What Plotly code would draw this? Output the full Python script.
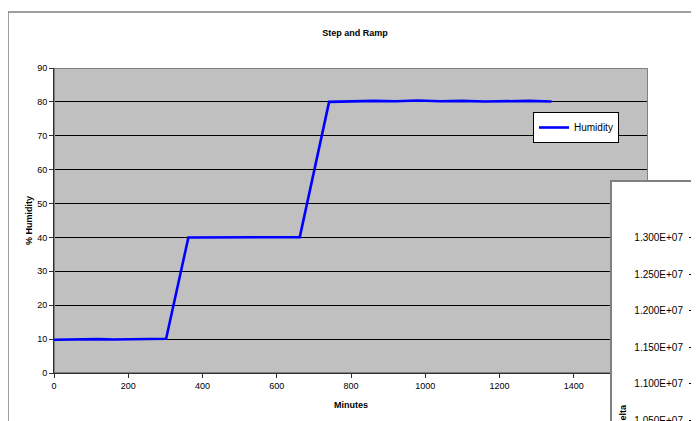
import plotly.graph_objects as go

# ---- data ----
minutes = [0, 40, 80, 120, 160, 200, 240, 280, 302, 362, 420, 500, 580, 640, 662,
           741, 800, 860, 920, 980, 1040, 1100, 1160, 1220, 1280, 1340]
humidity = [9.8, 9.9, 9.8, 10.0, 9.9, 10.0, 9.9, 10.0, 10.1, 40.0, 40.0, 40.0, 40.0, 40.0, 40.1,
            80.0, 80.2, 80.3, 80.2, 80.4, 80.2, 80.3, 80.1, 80.2, 80.3, 80.1]
series_name = "Humidity"

x_range = [0, 1600]
y_range = [0, 90]
x_ticks = [0, 200, 400, 600, 800, 1000, 1200, 1400, 1600]
y_ticks = [0, 10, 20, 30, 40, 50, 60, 70, 80, 90]

# second (overlapping) chart axis
delta_ticks = [10500000, 11000000, 11500000, 12000000, 12500000, 13000000]
delta_labels = ["1.050E+07", "1.100E+07", "1.150E+07", "1.200E+07", "1.250E+07", "1.300E+07"]
delta_range = [10384000, 13000000]

W, H = 699, 421
OFF = 8  # page body margin: figure starts 8px in from the window corner
FONT = "Arial, Liberation Sans, sans-serif"

def px(x):
    return (x - OFF) / W

def py(y):
    return 1 - (y - OFF) / H

fig = go.Figure()
fig.add_trace(go.Scatter(x=minutes, y=humidity, mode="lines", name=series_name,
                         line=dict(color="#0000FF", width=2.6), xaxis="x", yaxis="y"))
# empty traces so the overlapping chart's subplots are created
fig.add_trace(go.Scatter(x=[], y=[], xaxis="x2", yaxis="y2", showlegend=False, hoverinfo="skip"))
fig.add_trace(go.Scatter(x=[], y=[], xaxis="x3", yaxis="y3", showlegend=False, hoverinfo="skip"))

layout = dict(
    width=W, height=H, autosize=False,
    margin=dict(l=0, r=0, t=0, b=0, pad=0, autoexpand=False),
    paper_bgcolor="white", plot_bgcolor="white",
    font=dict(family=FONT, size=9, color="black"),
    title=dict(text="<b>Step and Ramp</b>", x=px(355), y=py(33), xanchor="center", yanchor="middle",
               xref="paper", yref="container", automargin=False,
               font=dict(family=FONT, size=9, color="black")),
    showlegend=True,
    legend=dict(x=px(533), y=py(112), xanchor="left", yanchor="top", bgcolor="white",
                bordercolor="black", borderwidth=1, font=dict(family=FONT, size=10, color="black"),
                itemwidth=30, tracegroupgap=0),
    xaxis=dict(domain=[px(54), px(648)], range=x_range, tickvals=x_ticks, anchor="y", automargin=False,
               showgrid=False, zeroline=False, showline=True, linecolor="#303030", linewidth=1,
               ticks="outside", ticklen=4, tickcolor="#303030", tickfont=dict(size=9),
               title=dict(text="<b>Minutes</b>", font=dict(size=9), standoff=11)),
    yaxis=dict(domain=[py(373), py(68)], range=y_range, tickvals=y_ticks, anchor="x", automargin=False,
               showgrid=True, gridcolor="#000000", gridwidth=1, zeroline=False,
               showline=True, linecolor="#303030", linewidth=1,
               ticks="outside", ticklen=4, tickcolor="#303030", tickfont=dict(size=9),
               title=dict(text="<b>% Humidity</b>", font=dict(size=9), standoff=3)),
    # white box of the overlapping second chart
    xaxis2=dict(domain=[px(612), 1], range=[0, 1], anchor="y2", side="top", automargin=False,
                showgrid=False, zeroline=False, showticklabels=False, ticks="",
                showline=True, linecolor="#808080", linewidth=1.5, fixedrange=True),
    yaxis2=dict(domain=[0, py(182)], range=[0, 1], anchor="x2", side="left", automargin=False,
                showgrid=False, zeroline=False, showticklabels=False, ticks="",
                showline=True, linecolor="#808080", linewidth=1.5, fixedrange=True),
    # the visible y axis of the second chart
    xaxis3=dict(domain=[px(696), 1], range=[0, 1], anchor="y3", automargin=False,
                showgrid=False, zeroline=False, showticklabels=False, ticks="", showline=False),
    yaxis3=dict(domain=[0, py(237.5)], range=delta_range, anchor="x3",
                side="left", automargin=False,
                tickvals=delta_ticks, ticktext=delta_labels, ticklabelstandoff=4,
                showgrid=False, zeroline=False, showline=True, linecolor="#000000", linewidth=1,
                ticks="outside", ticklen=6, tickcolor="#000000",
                tickfont=dict(family=FONT, size=10, color="black")),
)
fig.update_layout(**layout)

fig.add_shape(type="rect", xref="x", yref="y", x0=x_range[0], x1=x_range[1], y0=y_range[0], y1=y_range[1],
              fillcolor="#C0C0C0", line=dict(width=0), layer="below")
fig.add_shape(type="rect", xref="x", yref="y", x0=x_range[0], x1=x_range[1], y0=y_range[0], y1=y_range[1],
              fillcolor="rgba(0,0,0,0)", line=dict(color="#808080", width=2), layer="between")
# outer chart border
fig.add_shape(type="rect", xref="paper", yref="paper", x0=px(8), x1=1.2, y0=-0.2, y1=py(12),
              fillcolor="rgba(0,0,0,0)", line=dict(color="#808080", width=1.5), layer="below")

fig.add_annotation(text="<b>delta</b>", textangle=-90, xref="paper", yref="paper",
                   x=px(623), y=py(402), xanchor="center", yanchor="top", showarrow=False,
                   font=dict(family=FONT, size=9, color="black"))

fig.write_html("out.html")
